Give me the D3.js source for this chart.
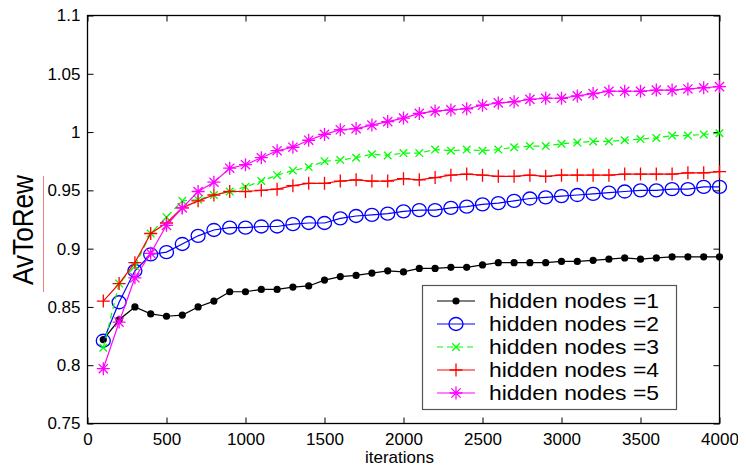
<!DOCTYPE html>
<html><head><meta charset="utf-8">
<script src="https://cdn.jsdelivr.net/npm/d3@7"></script>
<style>body{margin:0;background:#fff}svg{display:block}text{font-family:"Liberation Sans",Arial,sans-serif}</style>
</head><body>
<svg id="c" width="738" height="469"></svg>
<script>
const iterations = d3.range(100, 4001, 100);
const seriesNames = ["hidden nodes =1","hidden nodes =2","hidden nodes =3","hidden nodes =4","hidden nodes =5"];
const nodes1 = [0.822,0.839,0.850,0.844,0.842,0.843,0.850,0.855,0.863,0.863,0.865,0.865,0.867,0.868,0.873,0.876,0.877,0.879,0.881,0.880,0.883,0.883,0.884,0.884,0.886,0.888,0.888,0.888,0.888,0.889,0.889,0.890,0.891,0.892,0.891,0.892,0.893,0.893,0.893,0.893];
const nodes2 = [0.821,0.854,0.881,0.895,0.897,0.904,0.911,0.916,0.918,0.918,0.919,0.919,0.921,0.922,0.922,0.926,0.928,0.929,0.930,0.932,0.933,0.933,0.935,0.936,0.938,0.939,0.941,0.943,0.944,0.945,0.946,0.947,0.948,0.949,0.950,0.950,0.951,0.951,0.953,0.953];
const nodes3 = [0.815,0.870,0.885,0.913,0.927,0.941,0.942,0.946,0.949,0.953,0.958,0.963,0.967,0.970,0.975,0.976,0.978,0.981,0.980,0.982,0.982,0.985,0.984,0.985,0.984,0.985,0.987,0.988,0.988,0.990,0.991,0.992,0.992,0.993,0.994,0.995,0.997,0.997,0.998,0.999];
const nodes4 = [0.855,0.870,0.888,0.913,0.922,0.935,0.941,0.946,0.949,0.949,0.950,0.951,0.954,0.956,0.956,0.958,0.959,0.958,0.958,0.960,0.959,0.961,0.963,0.964,0.963,0.962,0.962,0.963,0.962,0.963,0.963,0.963,0.963,0.964,0.964,0.964,0.964,0.965,0.965,0.966];
const nodes5 = [0.797,0.837,0.875,0.896,0.920,0.935,0.949,0.957,0.969,0.972,0.978,0.984,0.987,0.993,0.998,1.002,1.003,1.006,1.009,1.012,1.016,1.018,1.019,1.020,1.023,1.025,1.026,1.028,1.029,1.029,1.031,1.033,1.035,1.035,1.035,1.036,1.036,1.037,1.038,1.039];
const xTicks = [0,500,1000,1500,2000,2500,3000,3500,4000];
const yTicks = [0.75,0.8,0.85,0.9,0.95,1,1.05,1.1];
const xLabel = "iterations";
const yLabel = "AvToRew";

const allSeries = [nodes1,nodes2,nodes3,nodes4,nodes5];
const colors = ["#000000","#0000ff","#00ff00","#ff0000","#ff00ff"];
const markers = ["dot","circle","x","plus","star"];
const dashes = [null,null,"6,4",null,null];

const svg = d3.select("#c");
const L=87.5, R=719.5, T=15.5, B=423.5;
const x = d3.scaleLinear().domain([0,4000]).range([L,R]);
const y = d3.scaleLinear().domain([0.75,1.1]).range([B,T]);

// frame
svg.append("rect").attr("x",L).attr("y",T).attr("width",R-L).attr("height",B-T)
  .attr("fill","none").attr("stroke","#000").attr("stroke-width",1.3);

const fmt = d => (d===1?"1":String(d));
// axes with inward ticks
const gB = svg.append("g").attr("transform",`translate(0,${B})`)
  .call(d3.axisBottom(x).tickValues(xTicks).tickSize(-6).tickPadding(9).tickFormat(d3.format("d")));
const gT = svg.append("g").attr("transform",`translate(0,${T})`)
  .call(d3.axisTop(x).tickValues(xTicks).tickSize(-6).tickFormat(""));
const gL = svg.append("g").attr("transform",`translate(${L},0)`)
  .call(d3.axisLeft(y).tickValues(yTicks).tickSize(-6).tickPadding(9).tickFormat(fmt));
const gR = svg.append("g").attr("transform",`translate(${R},0)`)
  .call(d3.axisRight(y).tickValues(yTicks).tickSize(-6).tickFormat(""));
[gB,gT,gL,gR].forEach(g=>{
  g.select(".domain").remove();
  g.selectAll(".tick line").attr("stroke","#000").attr("stroke-width",1);
  g.selectAll("text").attr("font-size",17).attr("fill","#000").attr("font-family","Liberation Sans, Arial, sans-serif");
});
gL.selectAll("text").attr("dx", 2);

// axis labels
svg.append("text").attr("x",(L+R)/2 - 4).attr("y",463).attr("text-anchor","middle")
  .attr("font-size",17).text(xLabel);
svg.append("text").attr("transform","translate(33,230) rotate(-90)").attr("text-anchor","middle")
  .attr("font-size",29).attr("textLength",110).attr("lengthAdjust","spacingAndGlyphs").text(yLabel);
svg.append("line").attr("x1",43.5).attr("x2",43.5).attr("y1",176).attr("y2",292)
  .attr("stroke","#f08080").attr("stroke-width",1);

function drawMarker(g, type, cx, cy, color){
  if(type==="dot"){
    g.append("circle").attr("cx",cx).attr("cy",cy).attr("r",3.6).attr("fill",color);
  } else if(type==="circle"){
    g.append("ellipse").attr("cx",cx).attr("cy",cy).attr("rx",7).attr("ry",6.5).attr("fill","none").attr("stroke",color).attr("stroke-width",1.3);
  } else if(type==="x"){
    const s=3.8;
    g.append("path").attr("d",`M${cx-s},${cy-s}L${cx+s},${cy+s}M${cx-s},${cy+s}L${cx+s},${cy-s}`).attr("stroke",color).attr("stroke-width",1.3).attr("fill","none");
  } else if(type==="plus"){
    const s=6.5;
    g.append("path").attr("d",`M${cx-s},${cy}L${cx+s},${cy}M${cx},${cy-s}L${cx},${cy+s}`).attr("stroke",color).attr("stroke-width",1.3).attr("fill","none");
  } else if(type==="star"){
    const s=6.5, d=4.6;
    g.append("path").attr("d",`M${cx-s},${cy}L${cx+s},${cy}M${cx},${cy-s}L${cx},${cy+s}M${cx-d},${cy-d}L${cx+d},${cy+d}M${cx-d},${cy+d}L${cx+d},${cy-d}`).attr("stroke",color).attr("stroke-width",1.3).attr("fill","none");
  }
}

const line = d3.line().x((d,i)=>x(iterations[i])).y(d=>y(d));
allSeries.forEach((vals,k)=>{
  const g = svg.append("g");
  g.append("path").attr("d",line(vals)).attr("fill","none").attr("stroke",colors[k])
    .attr("stroke-width",1.2).attr("stroke-dasharray",dashes[k]);
  vals.forEach((v,i)=>drawMarker(g, markers[k], x(iterations[i]), y(v), colors[k]));
});

// legend
const lg = svg.append("g");
lg.append("rect").attr("x",422.5).attr("y",285.5).attr("width",254).attr("height",124)
  .attr("fill","#fff").attr("stroke","#555").attr("stroke-width",1.2);
seriesNames.forEach((name,k)=>{
  const cy = 301 + k*23;
  lg.append("line").attr("x1",437).attr("x2",475).attr("y1",cy).attr("y2",cy)
    .attr("stroke",colors[k]).attr("stroke-width",1.2).attr("stroke-dasharray",dashes[k]);
  drawMarker(lg, markers[k], 456, cy, colors[k]);
  lg.append("text").attr("x",489).attr("y",cy+7).attr("font-size",21)
    .attr("textLength",170).attr("lengthAdjust","spacingAndGlyphs").text(name);
});
</script>
</body></html>
